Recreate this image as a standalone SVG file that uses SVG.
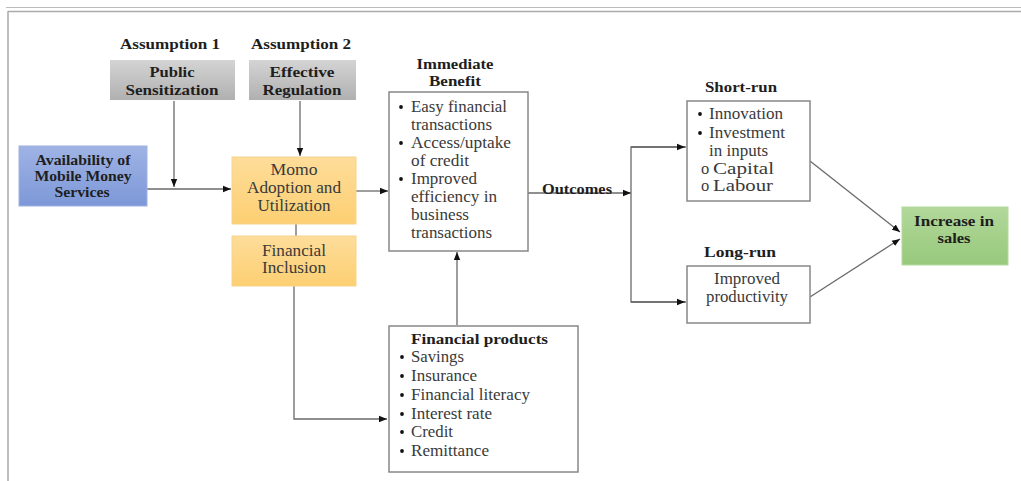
<svg xmlns="http://www.w3.org/2000/svg" width="1021" height="481" viewBox="0 0 1021 481">
<defs>
<linearGradient id="gGray" x1="0" y1="0" x2="0" y2="1"><stop offset="0" stop-color="#d4d4d4"/><stop offset="1" stop-color="#b0b0b0"/></linearGradient>
<linearGradient id="gBlue" x1="0" y1="0" x2="0" y2="1"><stop offset="0" stop-color="#9fb3e4"/><stop offset="1" stop-color="#7d98d8"/></linearGradient>
<linearGradient id="gOrange" x1="0" y1="0" x2="0" y2="1"><stop offset="0" stop-color="#fedd9a"/><stop offset="1" stop-color="#fccf72"/></linearGradient>
<linearGradient id="gGreen" x1="0" y1="0" x2="0" y2="1"><stop offset="0" stop-color="#b2d89a"/><stop offset="1" stop-color="#97c97c"/></linearGradient>
<marker id="arr" viewBox="0 0 10 10" refX="10" refY="5" markerWidth="8" markerHeight="8" markerUnits="userSpaceOnUse" orient="auto"><path d="M0,1 L10,5 L0,9 z" fill="#111"/></marker>
</defs>
<style>
text{font-family:"Liberation Serif","Times New Roman",serif;fill:#3a3a3a;font-size:16.5px}
.b{font-weight:bold;fill:#1e1e1e;font-size:15.5px}
.m{font-size:17px}
.c{text-anchor:middle}
.box{fill:#fff;stroke:#888;stroke-width:1.5}
.ln{fill:none;stroke:#6a6a6a;stroke-width:1.3}
.ar{marker-end:url(#arr)}
</style>
<g id="frame">
<line x1="6" y1="7.5" x2="1021" y2="7.5" stroke="#bbb" stroke-width="1.2"/>
<line x1="8" y1="11.5" x2="1021" y2="11.5" stroke="#aaa" stroke-width="1.5"/>
<line x1="8" y1="11" x2="8" y2="481" stroke="#aaa" stroke-width="1.5"/>
</g>
<g id="connectors">
<line class="ln ar" x1="147" y1="189" x2="231" y2="189"/>
<line class="ln ar" x1="174" y1="101" x2="174" y2="187"/>
<line class="ln ar" x1="300" y1="101" x2="300" y2="156"/>
<line class="ln" x1="296" y1="224" x2="296" y2="236"/>
<line class="ln ar" x1="356" y1="191" x2="388" y2="191"/>
<line class="ln ar" x1="528" y1="193" x2="631" y2="193"/>
<polyline class="ln" points="686,147 631,147 631,302 686,302"/>
<line class="ln ar" x1="631" y1="147" x2="685" y2="147"/>
<line class="ln ar" x1="631" y1="302" x2="685" y2="302"/>
<line class="ln ar" x1="810" y1="161" x2="900" y2="232"/>
<line class="ln ar" x1="810" y1="297" x2="900" y2="239"/>
<line class="ln ar" x1="457" y1="325" x2="457" y2="252"/>
<polyline class="ln ar" points="294,286 294,419 387,419"/>
</g>
<g id="assumption1">
<text class="b c" x="170" y="49" textLength="100" lengthAdjust="spacingAndGlyphs">Assumption 1</text>
<rect x="110" y="60" width="125" height="40" fill="url(#gGray)"/>
<text class="b c" x="172" y="77" textLength="45" lengthAdjust="spacingAndGlyphs">Public</text>
<text class="b c" x="172" y="95" textLength="93" lengthAdjust="spacingAndGlyphs">Sensitization</text>
</g>
<g id="assumption2">
<text class="b c" x="301" y="49" textLength="100" lengthAdjust="spacingAndGlyphs">Assumption 2</text>
<rect x="249" y="60" width="107" height="40" fill="url(#gGray)"/>
<text class="b c" x="302" y="77" textLength="65" lengthAdjust="spacingAndGlyphs">Effective</text>
<text class="b c" x="302" y="95" textLength="79" lengthAdjust="spacingAndGlyphs">Regulation</text>
</g>
<g id="availability">
<rect x="19" y="146" width="128" height="60" fill="url(#gBlue)" stroke="#9fb2e0" stroke-width="1"/>
<text class="b c" x="83" y="165" textLength="95" lengthAdjust="spacingAndGlyphs">Availability of</text>
<text class="b c" x="83" y="181" textLength="97" lengthAdjust="spacingAndGlyphs">Mobile Money</text>
<text class="b c" x="82" y="197" textLength="55" lengthAdjust="spacingAndGlyphs">Services</text>
</g>
<g id="momo">
<rect x="232" y="157" width="124" height="67" fill="url(#gOrange)" stroke="#f5d48c" stroke-width="1"/>
<text class="m c" x="294" y="175" textLength="47" lengthAdjust="spacingAndGlyphs">Momo</text>
<text class="m c" x="294" y="193" textLength="94" lengthAdjust="spacingAndGlyphs">Adoption and</text>
<text class="m c" x="294" y="211" textLength="73" lengthAdjust="spacingAndGlyphs">Utilization</text>
</g>
<g id="inclusion">
<rect x="232" y="236" width="124" height="50" fill="url(#gOrange)" stroke="#f5d48c" stroke-width="1"/>
<text class="m c" x="294" y="256" textLength="64" lengthAdjust="spacingAndGlyphs">Financial</text>
<text class="m c" x="294" y="273" textLength="64" lengthAdjust="spacingAndGlyphs">Inclusion</text>
</g>
<g id="immediate">
<text class="b c" x="455" y="69" textLength="77" lengthAdjust="spacingAndGlyphs">Immediate</text>
<text class="b c" x="455" y="86" textLength="52" lengthAdjust="spacingAndGlyphs">Benefit</text>
<rect class="box" x="389" y="92" width="139" height="159"/>
<circle cx="401" cy="107" r="1.9" fill="#111"/>
<text x="411" y="112" textLength="96" lengthAdjust="spacingAndGlyphs">Easy financial</text>
<text x="411" y="130" textLength="81" lengthAdjust="spacingAndGlyphs">transactions</text>
<circle cx="401" cy="143" r="1.9" fill="#111"/>
<text x="411" y="148" textLength="100" lengthAdjust="spacingAndGlyphs">Access/uptake</text>
<text x="411" y="166" textLength="58" lengthAdjust="spacingAndGlyphs">of credit</text>
<circle cx="401" cy="179" r="1.9" fill="#111"/>
<text x="411" y="184" textLength="66" lengthAdjust="spacingAndGlyphs">Improved</text>
<text x="411" y="202" textLength="86" lengthAdjust="spacingAndGlyphs">efficiency in</text>
<text x="411" y="220" textLength="58" lengthAdjust="spacingAndGlyphs">business</text>
<text x="411" y="238" textLength="81" lengthAdjust="spacingAndGlyphs">transactions</text>
</g>
<g id="outcomes">
<text class="b" x="542" y="194" textLength="70" lengthAdjust="spacingAndGlyphs">Outcomes</text>
</g>
<g id="shortrun">
<text class="b c" x="741" y="92" textLength="72" lengthAdjust="spacingAndGlyphs">Short-run</text>
<rect class="box" x="687" y="101" width="123" height="100"/>
<circle cx="700" cy="114" r="1.9" fill="#111"/>
<text x="709" y="119" textLength="74" lengthAdjust="spacingAndGlyphs">Innovation</text>
<circle cx="700" cy="133" r="1.9" fill="#111"/>
<text x="709" y="138" textLength="76" lengthAdjust="spacingAndGlyphs">Investment</text>
<text x="709" y="156" textLength="59" lengthAdjust="spacingAndGlyphs">in inputs</text>
<text x="701" y="174">o <tspan x="713" textLength="61" lengthAdjust="spacingAndGlyphs">Capital</tspan></text>
<text x="701" y="191">o <tspan x="713" textLength="60" lengthAdjust="spacingAndGlyphs">Labour</tspan></text>
</g>
<g id="longrun">
<text class="b c" x="740" y="257" textLength="72" lengthAdjust="spacingAndGlyphs">Long-run</text>
<rect class="box" x="687" y="266" width="123" height="57"/>
<text class="c" x="747" y="284" textLength="66" lengthAdjust="spacingAndGlyphs">Improved</text>
<text class="c" x="747" y="302" textLength="82" lengthAdjust="spacingAndGlyphs">productivity</text>
</g>
<g id="sales">
<rect x="902" y="207" width="106" height="58" fill="url(#gGreen)" stroke="#b5d9a0" stroke-width="1"/>
<text class="b c" x="954" y="226" textLength="80" lengthAdjust="spacingAndGlyphs">Increase in</text>
<text class="b c" x="954" y="243" textLength="33" lengthAdjust="spacingAndGlyphs">sales</text>
</g>
<g id="products">
<rect class="box" x="389" y="326" width="189" height="146"/>
<text class="b" x="411" y="344" textLength="137" lengthAdjust="spacingAndGlyphs">Financial products</text>
<circle cx="402" cy="357" r="1.9" fill="#111"/>
<text x="411" y="362" textLength="53" lengthAdjust="spacingAndGlyphs">Savings</text>
<circle cx="402" cy="376" r="1.9" fill="#111"/>
<text x="411" y="381" textLength="66" lengthAdjust="spacingAndGlyphs">Insurance</text>
<circle cx="402" cy="395" r="1.9" fill="#111"/>
<text x="411" y="400" textLength="119" lengthAdjust="spacingAndGlyphs">Financial literacy</text>
<circle cx="402" cy="414" r="1.9" fill="#111"/>
<text x="411" y="419" textLength="81" lengthAdjust="spacingAndGlyphs">Interest rate</text>
<circle cx="402" cy="432" r="1.9" fill="#111"/>
<text x="411" y="437" textLength="42" lengthAdjust="spacingAndGlyphs">Credit</text>
<circle cx="402" cy="451" r="1.9" fill="#111"/>
<text x="411" y="456" textLength="78" lengthAdjust="spacingAndGlyphs">Remittance</text>
</g>
</svg>
